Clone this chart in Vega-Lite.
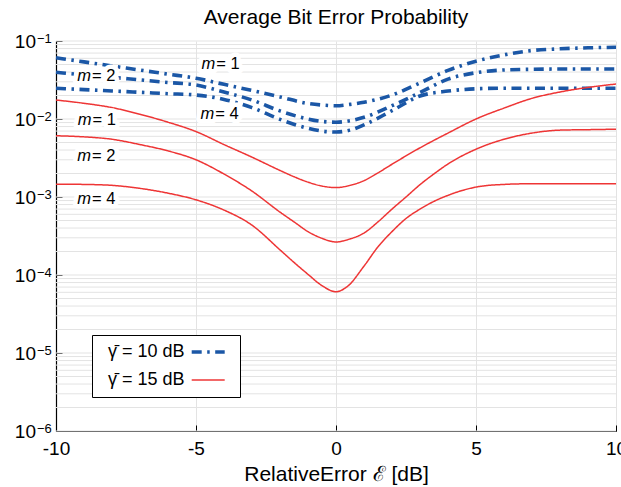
{
  "$schema": "https://vega.github.io/schema/vega-lite/v6.json",
  "autosize": {"type": "none"},
  "width": 560,
  "height": 390,
  "padding": {"left": 56, "top": 41, "right": 5, "bottom": 56},
  "title": {"text": "Average Bit Error Probability", "fontSize": 21, "fontWeight": "normal", "font": "Liberation Sans", "color": "black", "offset": 5},
  "datasets": {
    "curves": [
      {"x": -10, "v": 0.061, "gamma": "γ̄ = 10 dB", "m": "1"},
      {"x": -9, "v": 0.054, "gamma": "γ̄ = 10 dB", "m": "1"},
      {"x": -8, "v": 0.0479, "gamma": "γ̄ = 10 dB", "m": "1"},
      {"x": -7, "v": 0.0424, "gamma": "γ̄ = 10 dB", "m": "1"},
      {"x": -6, "v": 0.0376, "gamma": "γ̄ = 10 dB", "m": "1"},
      {"x": -5, "v": 0.0333, "gamma": "γ̄ = 10 dB", "m": "1"},
      {"x": -4, "v": 0.0278, "gamma": "γ̄ = 10 dB", "m": "1"},
      {"x": -3, "v": 0.0232, "gamma": "γ̄ = 10 dB", "m": "1"},
      {"x": -2, "v": 0.0192, "gamma": "γ̄ = 10 dB", "m": "1"},
      {"x": -1, "v": 0.0158, "gamma": "γ̄ = 10 dB", "m": "1"},
      {"x": -0.5, "v": 0.0151, "gamma": "γ̄ = 10 dB", "m": "1"},
      {"x": 0, "v": 0.0148, "gamma": "γ̄ = 10 dB", "m": "1"},
      {"x": 0.5, "v": 0.0154, "gamma": "γ̄ = 10 dB", "m": "1"},
      {"x": 1, "v": 0.0164, "gamma": "γ̄ = 10 dB", "m": "1"},
      {"x": 2, "v": 0.0203, "gamma": "γ̄ = 10 dB", "m": "1"},
      {"x": 3, "v": 0.029, "gamma": "γ̄ = 10 dB", "m": "1"},
      {"x": 4, "v": 0.042, "gamma": "γ̄ = 10 dB", "m": "1"},
      {"x": 5, "v": 0.055, "gamma": "γ̄ = 10 dB", "m": "1"},
      {"x": 6, "v": 0.0665, "gamma": "γ̄ = 10 dB", "m": "1"},
      {"x": 7, "v": 0.0755, "gamma": "γ̄ = 10 dB", "m": "1"},
      {"x": 8, "v": 0.0794, "gamma": "γ̄ = 10 dB", "m": "1"},
      {"x": 9, "v": 0.0818, "gamma": "γ̄ = 10 dB", "m": "1"},
      {"x": 10, "v": 0.083, "gamma": "γ̄ = 10 dB", "m": "1"},
      {"x": -10, "v": 0.0397, "gamma": "γ̄ = 10 dB", "m": "2"},
      {"x": -9, "v": 0.0368, "gamma": "γ̄ = 10 dB", "m": "2"},
      {"x": -8, "v": 0.0342, "gamma": "γ̄ = 10 dB", "m": "2"},
      {"x": -7, "v": 0.0317, "gamma": "γ̄ = 10 dB", "m": "2"},
      {"x": -6, "v": 0.0294, "gamma": "γ̄ = 10 dB", "m": "2"},
      {"x": -5, "v": 0.0273, "gamma": "γ̄ = 10 dB", "m": "2"},
      {"x": -4, "v": 0.0222, "gamma": "γ̄ = 10 dB", "m": "2"},
      {"x": -3, "v": 0.0175, "gamma": "γ̄ = 10 dB", "m": "2"},
      {"x": -2, "v": 0.0127, "gamma": "γ̄ = 10 dB", "m": "2"},
      {"x": -1, "v": 0.0100, "gamma": "γ̄ = 10 dB", "m": "2"},
      {"x": -0.5, "v": 0.0093, "gamma": "γ̄ = 10 dB", "m": "2"},
      {"x": 0, "v": 0.0091, "gamma": "γ̄ = 10 dB", "m": "2"},
      {"x": 0.5, "v": 0.0095, "gamma": "γ̄ = 10 dB", "m": "2"},
      {"x": 1, "v": 0.0105, "gamma": "γ̄ = 10 dB", "m": "2"},
      {"x": 2, "v": 0.0148, "gamma": "γ̄ = 10 dB", "m": "2"},
      {"x": 3, "v": 0.0218, "gamma": "γ̄ = 10 dB", "m": "2"},
      {"x": 4, "v": 0.0325, "gamma": "γ̄ = 10 dB", "m": "2"},
      {"x": 5, "v": 0.0392, "gamma": "γ̄ = 10 dB", "m": "2"},
      {"x": 6, "v": 0.0425, "gamma": "γ̄ = 10 dB", "m": "2"},
      {"x": 7, "v": 0.0434, "gamma": "γ̄ = 10 dB", "m": "2"},
      {"x": 8, "v": 0.0437, "gamma": "γ̄ = 10 dB", "m": "2"},
      {"x": 9, "v": 0.0437, "gamma": "γ̄ = 10 dB", "m": "2"},
      {"x": 10, "v": 0.0437, "gamma": "γ̄ = 10 dB", "m": "2"},
      {"x": -10, "v": 0.0248, "gamma": "γ̄ = 10 dB", "m": "4"},
      {"x": -9, "v": 0.0238, "gamma": "γ̄ = 10 dB", "m": "4"},
      {"x": -8, "v": 0.0229, "gamma": "γ̄ = 10 dB", "m": "4"},
      {"x": -7, "v": 0.022, "gamma": "γ̄ = 10 dB", "m": "4"},
      {"x": -6, "v": 0.0211, "gamma": "γ̄ = 10 dB", "m": "4"},
      {"x": -5, "v": 0.0203, "gamma": "γ̄ = 10 dB", "m": "4"},
      {"x": -4, "v": 0.0178, "gamma": "γ̄ = 10 dB", "m": "4"},
      {"x": -3, "v": 0.0140, "gamma": "γ̄ = 10 dB", "m": "4"},
      {"x": -2, "v": 0.0099, "gamma": "γ̄ = 10 dB", "m": "4"},
      {"x": -1, "v": 0.0076, "gamma": "γ̄ = 10 dB", "m": "4"},
      {"x": -0.5, "v": 0.0070, "gamma": "γ̄ = 10 dB", "m": "4"},
      {"x": 0, "v": 0.0068, "gamma": "γ̄ = 10 dB", "m": "4"},
      {"x": 0.5, "v": 0.0072, "gamma": "γ̄ = 10 dB", "m": "4"},
      {"x": 1, "v": 0.0084, "gamma": "γ̄ = 10 dB", "m": "4"},
      {"x": 2, "v": 0.0128, "gamma": "γ̄ = 10 dB", "m": "4"},
      {"x": 3, "v": 0.0197, "gamma": "γ̄ = 10 dB", "m": "4"},
      {"x": 4, "v": 0.0228, "gamma": "γ̄ = 10 dB", "m": "4"},
      {"x": 5, "v": 0.0244, "gamma": "γ̄ = 10 dB", "m": "4"},
      {"x": 6, "v": 0.0248, "gamma": "γ̄ = 10 dB", "m": "4"},
      {"x": 7, "v": 0.0248, "gamma": "γ̄ = 10 dB", "m": "4"},
      {"x": 8, "v": 0.0248, "gamma": "γ̄ = 10 dB", "m": "4"},
      {"x": 9, "v": 0.0248, "gamma": "γ̄ = 10 dB", "m": "4"},
      {"x": 10, "v": 0.0248, "gamma": "γ̄ = 10 dB", "m": "4"},
      {"x": -10, "v": 0.0175, "gamma": "γ̄ = 15 dB", "m": "1"},
      {"x": -9, "v": 0.0159, "gamma": "γ̄ = 15 dB", "m": "1"},
      {"x": -8, "v": 0.0140, "gamma": "γ̄ = 15 dB", "m": "1"},
      {"x": -7, "v": 0.0115, "gamma": "γ̄ = 15 dB", "m": "1"},
      {"x": -6, "v": 0.0091, "gamma": "γ̄ = 15 dB", "m": "1"},
      {"x": -5, "v": 0.0069, "gamma": "γ̄ = 15 dB", "m": "1"},
      {"x": -4, "v": 0.0047, "gamma": "γ̄ = 15 dB", "m": "1"},
      {"x": -3, "v": 0.00324, "gamma": "γ̄ = 15 dB", "m": "1"},
      {"x": -2, "v": 0.00219, "gamma": "γ̄ = 15 dB", "m": "1"},
      {"x": -1.5, "v": 0.00182, "gamma": "γ̄ = 15 dB", "m": "1"},
      {"x": -1, "v": 0.00155, "gamma": "γ̄ = 15 dB", "m": "1"},
      {"x": -0.5, "v": 0.00138, "gamma": "γ̄ = 15 dB", "m": "1"},
      {"x": 0, "v": 0.00132, "gamma": "γ̄ = 15 dB", "m": "1"},
      {"x": 0.5, "v": 0.00141, "gamma": "γ̄ = 15 dB", "m": "1"},
      {"x": 1, "v": 0.00162, "gamma": "γ̄ = 15 dB", "m": "1"},
      {"x": 1.5, "v": 0.00204, "gamma": "γ̄ = 15 dB", "m": "1"},
      {"x": 2, "v": 0.00263, "gamma": "γ̄ = 15 dB", "m": "1"},
      {"x": 3, "v": 0.00427, "gamma": "γ̄ = 15 dB", "m": "1"},
      {"x": 4, "v": 0.0066, "gamma": "γ̄ = 15 dB", "m": "1"},
      {"x": 5, "v": 0.0100, "gamma": "γ̄ = 15 dB", "m": "1"},
      {"x": 6, "v": 0.0138, "gamma": "γ̄ = 15 dB", "m": "1"},
      {"x": 7, "v": 0.0184, "gamma": "γ̄ = 15 dB", "m": "1"},
      {"x": 8, "v": 0.0222, "gamma": "γ̄ = 15 dB", "m": "1"},
      {"x": 9, "v": 0.0254, "gamma": "γ̄ = 15 dB", "m": "1"},
      {"x": 10, "v": 0.0281, "gamma": "γ̄ = 15 dB", "m": "1"},
      {"x": -10, "v": 0.0061, "gamma": "γ̄ = 15 dB", "m": "2"},
      {"x": -9, "v": 0.0059, "gamma": "γ̄ = 15 dB", "m": "2"},
      {"x": -8, "v": 0.0055, "gamma": "γ̄ = 15 dB", "m": "2"},
      {"x": -7, "v": 0.0047, "gamma": "γ̄ = 15 dB", "m": "2"},
      {"x": -6, "v": 0.0039, "gamma": "γ̄ = 15 dB", "m": "2"},
      {"x": -5, "v": 0.0030, "gamma": "γ̄ = 15 dB", "m": "2"},
      {"x": -4, "v": 0.00197, "gamma": "γ̄ = 15 dB", "m": "2"},
      {"x": -3, "v": 0.00119, "gamma": "γ̄ = 15 dB", "m": "2"},
      {"x": -2, "v": 0.00064, "gamma": "γ̄ = 15 dB", "m": "2"},
      {"x": -1.5, "v": 0.00048, "gamma": "γ̄ = 15 dB", "m": "2"},
      {"x": -1, "v": 0.00036, "gamma": "γ̄ = 15 dB", "m": "2"},
      {"x": -0.5, "v": 0.000295, "gamma": "γ̄ = 15 dB", "m": "2"},
      {"x": 0, "v": 0.000265, "gamma": "γ̄ = 15 dB", "m": "2"},
      {"x": 0.5, "v": 0.00029, "gamma": "γ̄ = 15 dB", "m": "2"},
      {"x": 1, "v": 0.000345, "gamma": "γ̄ = 15 dB", "m": "2"},
      {"x": 1.5, "v": 0.00048, "gamma": "γ̄ = 15 dB", "m": "2"},
      {"x": 2, "v": 0.0007, "gamma": "γ̄ = 15 dB", "m": "2"},
      {"x": 2.5, "v": 0.001, "gamma": "γ̄ = 15 dB", "m": "2"},
      {"x": 3, "v": 0.00144, "gamma": "γ̄ = 15 dB", "m": "2"},
      {"x": 3.5, "v": 0.00198, "gamma": "γ̄ = 15 dB", "m": "2"},
      {"x": 4, "v": 0.00265, "gamma": "γ̄ = 15 dB", "m": "2"},
      {"x": 5, "v": 0.0041, "gamma": "γ̄ = 15 dB", "m": "2"},
      {"x": 6, "v": 0.0055, "gamma": "γ̄ = 15 dB", "m": "2"},
      {"x": 7, "v": 0.0066, "gamma": "γ̄ = 15 dB", "m": "2"},
      {"x": 8, "v": 0.0072, "gamma": "γ̄ = 15 dB", "m": "2"},
      {"x": 9, "v": 0.0073, "gamma": "γ̄ = 15 dB", "m": "2"},
      {"x": 10, "v": 0.0074, "gamma": "γ̄ = 15 dB", "m": "2"},
      {"x": -10, "v": 0.00146, "gamma": "γ̄ = 15 dB", "m": "4"},
      {"x": -9, "v": 0.00145, "gamma": "γ̄ = 15 dB", "m": "4"},
      {"x": -8, "v": 0.00141, "gamma": "γ̄ = 15 dB", "m": "4"},
      {"x": -7, "v": 0.00129, "gamma": "γ̄ = 15 dB", "m": "4"},
      {"x": -6, "v": 0.00112, "gamma": "γ̄ = 15 dB", "m": "4"},
      {"x": -5, "v": 0.00092, "gamma": "γ̄ = 15 dB", "m": "4"},
      {"x": -4, "v": 0.00068, "gamma": "γ̄ = 15 dB", "m": "4"},
      {"x": -3, "v": 0.000435, "gamma": "γ̄ = 15 dB", "m": "4"},
      {"x": -2, "v": 0.00021, "gamma": "γ̄ = 15 dB", "m": "4"},
      {"x": -1.5, "v": 0.000145, "gamma": "γ̄ = 15 dB", "m": "4"},
      {"x": -1, "v": 0.000102, "gamma": "γ̄ = 15 dB", "m": "4"},
      {"x": -0.5, "v": 0.000073, "gamma": "γ̄ = 15 dB", "m": "4"},
      {"x": 0, "v": 0.000061, "gamma": "γ̄ = 15 dB", "m": "4"},
      {"x": 0.4, "v": 0.000071, "gamma": "γ̄ = 15 dB", "m": "4"},
      {"x": 1, "v": 0.00013, "gamma": "γ̄ = 15 dB", "m": "4"},
      {"x": 1.5, "v": 0.00023, "gamma": "γ̄ = 15 dB", "m": "4"},
      {"x": 2, "v": 0.00036, "gamma": "γ̄ = 15 dB", "m": "4"},
      {"x": 2.5, "v": 0.00053, "gamma": "γ̄ = 15 dB", "m": "4"},
      {"x": 3, "v": 0.0007, "gamma": "γ̄ = 15 dB", "m": "4"},
      {"x": 3.5, "v": 0.00088, "gamma": "γ̄ = 15 dB", "m": "4"},
      {"x": 4, "v": 0.00105, "gamma": "γ̄ = 15 dB", "m": "4"},
      {"x": 4.5, "v": 0.00121, "gamma": "γ̄ = 15 dB", "m": "4"},
      {"x": 5, "v": 0.00134, "gamma": "γ̄ = 15 dB", "m": "4"},
      {"x": 6, "v": 0.00145, "gamma": "γ̄ = 15 dB", "m": "4"},
      {"x": 7, "v": 0.00148, "gamma": "γ̄ = 15 dB", "m": "4"},
      {"x": 8, "v": 0.00148, "gamma": "γ̄ = 15 dB", "m": "4"},
      {"x": 9, "v": 0.00148, "gamma": "γ̄ = 15 dB", "m": "4"},
      {"x": 10, "v": 0.00148, "gamma": "γ̄ = 15 dB", "m": "4"}
    ],
    "labels": [
      {"x": -4.31, "v": 0.0502, "mt": "m", "rest": "= 1"},
      {"x": -8.75, "v": 0.0356, "mt": "m", "rest": "= 2"},
      {"x": -4.35, "v": 0.0115, "mt": "m", "rest": "= 4"},
      {"x": -8.73, "v": 0.0097, "mt": "m", "rest": "= 1"},
      {"x": -8.75, "v": 0.00336, "mt": "m", "rest": "= 2"},
      {"x": -8.75, "v": 0.00094, "mt": "m", "rest": "= 4"}
    ],
    "ylabels": [
      {"v": 1e-6, "e": "−6"}, {"v": 1e-5, "e": "−5"}, {"v": 1e-4, "e": "−4"},
      {"v": 1e-3, "e": "−3"}, {"v": 1e-2, "e": "−2"}, {"v": 1e-1, "e": "−1"}
    ],
    "grid": [
      {"v": 1e-6}, {"v": 2e-6}, {"v": 3e-6}, {"v": 4e-6}, {"v": 5e-6}, {"v": 6e-6}, {"v": 7e-6}, {"v": 8e-6}, {"v": 9e-6},
      {"v": 1e-5}, {"v": 2e-5}, {"v": 3e-5}, {"v": 4e-5}, {"v": 5e-5}, {"v": 6e-5}, {"v": 7e-5}, {"v": 8e-5}, {"v": 9e-5},
      {"v": 1e-4}, {"v": 2e-4}, {"v": 3e-4}, {"v": 4e-4}, {"v": 5e-4}, {"v": 6e-4}, {"v": 7e-4}, {"v": 8e-4}, {"v": 9e-4},
      {"v": 1e-3}, {"v": 2e-3}, {"v": 3e-3}, {"v": 4e-3}, {"v": 5e-3}, {"v": 6e-3}, {"v": 7e-3}, {"v": 8e-3}, {"v": 9e-3},
      {"v": 1e-2}, {"v": 2e-2}, {"v": 3e-2}, {"v": 4e-2}, {"v": 5e-2}, {"v": 6e-2}, {"v": 7e-2}, {"v": 8e-2}, {"v": 9e-2},
      {"v": 1e-1}
    ]
  },
  "layer": [
    {
      "data": {"name": "grid"},
      "mark": {"type": "rule", "color": "#e3e3e3", "strokeWidth": 1},
      "encoding": {
        "y": {"field": "v", "type": "quantitative"}
      }
    },
    {
      "data": {"name": "curves"},
      "mark": {"type": "line", "interpolate": "monotone", "strokeCap": "butt"},
      "encoding": {
        "x": {"field": "x", "type": "quantitative", "scale": {"domain": [-10, 10], "nice": false},
              "axis": {"values": [-10, -5, 0, 5, 10], "title": "RelativeError ℰ [dB]", "grid": true, "gridColor": "#e3e3e3", "labelFlush": false,
                       "labelExpr": "datum.value < 0 ? '-' + abs(datum.value) : '' + datum.value"}},
        "y": {"field": "v", "type": "quantitative", "scale": {"type": "log", "domain": [1e-6, 0.1], "nice": false},
              "axis": {"values": [1e-6, 1e-5, 1e-4, 1e-3, 1e-2, 1e-1], "title": null, "grid": false, "labels": false}},
        "color": {"field": "gamma", "type": "nominal", "scale": {"domain": ["γ̄ = 10 dB", "γ̄ = 15 dB"], "range": ["#1b57a6", "#ee3535"]}, "title": null},
        "strokeDash": {"field": "gamma", "type": "nominal", "scale": {"domain": ["γ̄ = 10 dB", "γ̄ = 15 dB"], "range": [[10, 5.5, 2.5, 5.5], [1, 0]]}, "title": null},
        "strokeWidth": {"field": "gamma", "type": "nominal", "scale": {"domain": ["γ̄ = 10 dB", "γ̄ = 15 dB"], "range": [3.6, 1.5]}, "title": null},
        "detail": {"field": "m"}
      }
    },
    {
      "data": {"name": "ylabels"},
      "mark": {"type": "text", "align": "right", "baseline": "alphabetic", "fontSize": 19, "color": "black", "dx": -20, "dy": 7},
      "encoding": {
        "x": {"datum": -10, "type": "quantitative"},
        "y": {"field": "v", "type": "quantitative"},
        "text": {"value": "10"}
      }
    },
    {
      "data": {"name": "ylabels"},
      "mark": {"type": "text", "align": "left", "baseline": "alphabetic", "fontSize": 13, "color": "black", "dx": -19, "dy": 2},
      "encoding": {
        "x": {"datum": -10, "type": "quantitative"},
        "y": {"field": "v", "type": "quantitative"},
        "text": {"field": "e"}
      }
    },
    {
      "data": {"name": "labels"},
      "mark": {"type": "text", "align": "right", "baseline": "middle", "fontStyle": "italic", "fontSize": 16.5, "color": "white", "stroke": "white", "strokeWidth": 9, "strokeJoin": "round"},
      "encoding": {
        "x": {"field": "x", "type": "quantitative"},
        "y": {"field": "v", "type": "quantitative"},
        "text": {"field": "mt"}
      }
    },
    {
      "data": {"name": "labels"},
      "mark": {"type": "text", "align": "left", "baseline": "middle", "fontSize": 16.5, "color": "white", "dx": 1, "stroke": "white", "strokeWidth": 9, "strokeJoin": "round"},
      "encoding": {
        "x": {"field": "x", "type": "quantitative"},
        "y": {"field": "v", "type": "quantitative"},
        "text": {"field": "rest"}
      }
    },
    {
      "data": {"name": "labels"},
      "mark": {"type": "text", "align": "right", "baseline": "middle", "fontStyle": "italic", "fontSize": 16.5, "color": "black"},
      "encoding": {
        "x": {"field": "x", "type": "quantitative"},
        "y": {"field": "v", "type": "quantitative"},
        "text": {"field": "mt"}
      }
    },
    {
      "data": {"name": "labels"},
      "mark": {"type": "text", "align": "left", "baseline": "middle", "fontSize": 16.5, "color": "black", "dx": 1},
      "encoding": {
        "x": {"field": "x", "type": "quantitative"},
        "y": {"field": "v", "type": "quantitative"},
        "text": {"field": "rest"}
      }
    }
  ],
  "config": {
    "view": {"stroke": null},
    "font": "Liberation Sans",
    "axis": {
      "domainColor": "black", "domainWidth": 1.2, "tickColor": "black", "tickSize": -6, "tickWidth": 1,
      "labelFontSize": 19, "labelColor": "black", "labelFont": "Liberation Sans",
      "titleFontSize": 21, "titleFontWeight": "normal", "titleColor": "black", "titleFont": "Liberation Sans"
    },
    "axisX": {"labelPadding": 14, "titlePadding": 5},
    "legend": {
      "orient": "none", "legendX": 36, "legendY": 294,
      "strokeColor": "black", "fillColor": "white", "padding": 8,
      "labelFontSize": 18, "labelColor": "black", "labelFont": "Liberation Sans",
      "symbolType": "M-3.3,0H3.3", "symbolSize": 100, "symbolOffset": 99.2, "labelOffset": -109.2,
      "rowPadding": 10
    }
  }
}
